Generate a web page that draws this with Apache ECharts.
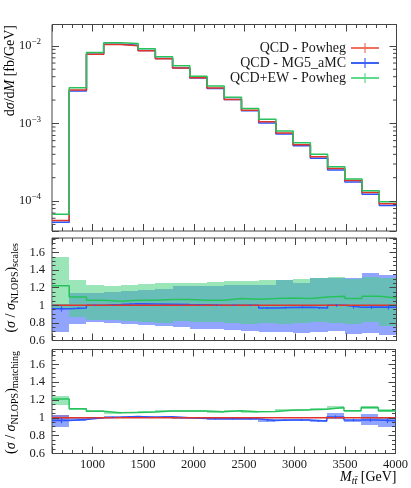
<!DOCTYPE html>
<html>
<head>
<meta charset="utf-8">
<script src="https://cdn.jsdelivr.net/npm/echarts@6/dist/echarts.min.js"></script>
<style>
  html, body { margin: 0; padding: 0; background: #fff; }
  #chart { width: 411px; height: 488px; }
</style>
</head>
<body>
<div id="chart"></div>
<script>
// bin edges of M_ttbar [GeV]
const binEdges = [600, 770, 940, 1110, 1280, 1450, 1620, 1790, 1960, 2130, 2300,
  2470, 2640, 2810, 2980, 3150, 3320, 3490, 3660, 3830, 4000];

// dsigma/dM [fb/GeV]
const xsPowheg = [5.6e-5, 2.69e-3, 7.8e-3, 1.04e-2, 1.0e-2, 8.65e-3, 6.8e-3, 5.18e-3, 3.88e-3, 2.86e-3,
  2.03e-3, 1.48e-3, 1.05e-3, 7.55e-4, 5.3e-4, 3.72e-4, 2.63e-4, 1.84e-4, 1.29e-4, 9.2e-5];
const xsMG5 = [5.33e-5, 2.61e-3, 7.8e-3, 1.045e-2, 1.02e-2, 8.7e-3, 6.87e-3, 5.2e-3, 3.86e-3, 2.83e-3,
  2.03e-3, 1.46e-3, 1.01e-3, 7.3e-4, 5.15e-4, 3.56e-4, 2.51e-4, 1.76e-4, 1.22e-4, 8.73e-5];
const xsEW = [6.76e-5, 2.88e-3, 8.22e-3, 1.094e-2, 1.074e-2, 9.15e-3, 7.21e-3, 5.53e-3, 4.07e-3, 3.03e-3,
  2.17e-3, 1.56e-3, 1.13e-3, 8.0e-4, 5.65e-4, 4.0e-4, 2.77e-4, 1.93e-4, 1.36e-4, 9.8e-5];

// ratio panel: scale variations
const scaleRed = [1, 1, 1, 1, 1, 1, 1, 1, 1, 1, 1, 1, 1, 1, 1, 1, 1, 1, 1, 1];
const scaleEW = [1.221, 1.095, 1.057, 1.046, 1.057, 1.057, 1.065, 1.065, 1.057, 1.057,
  1.076, 1.069, 1.076, 1.084, 1.076, 1.095, 1.103, 1.076, 1.103, 1.084];
const scaleEWLo = [0.975, 0.862, 0.836, 0.83, 0.817, 0.81, 0.80, 0.817, 0.81, 0.81,
  0.80, 0.79, 0.80, 0.79, 0.80, 0.81, 0.80, 0.79, 0.81, 0.77];
const scaleEWHi = [1.552, 1.291, 1.236, 1.221, 1.236, 1.244, 1.255, 1.255, 1.259, 1.263,
  1.278, 1.274, 1.286, 1.293, 1.297, 1.312, 1.324, 1.297, 1.324, 1.312];
const scaleMG5 = [0.96, 0.97, 1.0, 1.008, 1.018, 1.015, 1.012, 1.008, 1.005, 1.0,
  1.0, 1.0, 0.97, 0.975, 0.978, 0.97, 1.0, 0.978, 0.98, 0.978];
const scaleMG5Err = [0.03, 0.01, 0.006, 0.006, 0.006, 0.006, 0.006, 0.006, 0.006, 0.008,
  0.008, 0.008, 0.01, 0.01, 0.012, 0.012, 0.015, 0.015, 0.018, 0.025];
const scaleMG5Lo = [0.695, 0.79, 0.81, 0.80, 0.79, 0.771, 0.76, 0.752, 0.733, 0.733,
  0.714, 0.703, 0.70, 0.695, 0.688, 0.695, 0.703, 0.676, 0.688, 0.657];
const scaleMG5Hi = [1.01, 1.135, 1.141, 1.152, 1.164, 1.171, 1.19, 1.217, 1.217, 1.217,
  1.229, 1.229, 1.229, 1.286, 1.259, 1.31, 1.305, 1.312, 1.362, 1.343];

// ratio panel: matching variations
const matchRed = [1, 1, 1, 1, 1, 1, 1, 1, 1, 1, 1, 1, 1, 1, 1, 1, 1, 1, 1, 1];
const matchRedLo = [0.975, 0.995, 0.996, 0.996, 0.996, 0.996, 0.996, 0.996, 0.996, 0.996,
  0.996, 0.996, 0.996, 0.996, 0.996, 0.996, 0.996, 0.996, 0.996, 0.996];
const matchRedHi = [1.03, 1.005, 1.004, 1.004, 1.004, 1.004, 1.004, 1.004, 1.004, 1.004,
  1.004, 1.004, 1.004, 1.004, 1.004, 1.004, 1.004, 1.004, 1.004, 1.004];
const matchEW = [1.211, 1.10, 1.074, 1.056, 1.06, 1.064, 1.075, 1.075, 1.075, 1.067,
  1.078, 1.067, 1.07, 1.085, 1.089, 1.096, 1.115, 1.078, 1.115, 1.078];
const matchEWLo = [1.14, 1.09, 1.066, 1.048, 1.052, 1.056, 1.067, 1.067, 1.067, 1.059,
  1.069, 1.058, 1.061, 1.075, 1.079, 1.085, 1.098, 1.066, 1.097, 1.062];
const matchEWHi = [1.24, 1.11, 1.082, 1.064, 1.068, 1.072, 1.083, 1.083, 1.083, 1.075,
  1.087, 1.076, 1.079, 1.095, 1.099, 1.107, 1.132, 1.09, 1.133, 1.094];
const matchMG5 = [0.97, 0.98, 1.0, 1.005, 1.015, 1.005, 1.012, 1.0, 0.992, 0.99,
  0.99, 0.99, 0.97, 0.975, 0.975, 0.964, 1.01, 0.975, 0.975, 0.966];
const matchMG5Err = [0.03, 0.01, 0.006, 0.006, 0.006, 0.006, 0.006, 0.006, 0.006, 0.008,
  0.008, 0.008, 0.01, 0.01, 0.012, 0.012, 0.015, 0.015, 0.018, 0.025];
const matchMG5Lo = [0.90, 0.965, 0.99, 0.995, 1.005, 0.995, 1.002, 0.99, 0.982, 0.98,
  0.98, 0.978, 0.958, 0.963, 0.962, 0.955, 0.985, 0.955, 0.915, 0.90];
const matchMG5Hi = [1.03, 0.995, 1.01, 1.015, 1.025, 1.015, 1.022, 1.01, 1.002, 1.0,
  1.0, 1.002, 0.982, 0.987, 0.988, 0.975, 1.05, 0.98, 1.045, 1.01];

// minor ticks of the log axis
const logMinorTicks = [5e-5, 6e-5, 7e-5, 8e-5, 9e-5,
  2e-4, 3e-4, 4e-4, 5e-4, 6e-4, 7e-4, 8e-4, 9e-4,
  2e-3, 3e-3, 4e-3, 5e-3, 6e-3, 7e-3, 8e-3, 9e-3];

const X_MIN = 600, X_MAX = 4000;
const FONT = 'Liberation Serif';
const FRAME = '#444';
const TXT = '#1a1a1a';
const RED = '#e0352b', BLUE = '#2a55ff', GREEN = '#27c25c';
const FILL_BLUE = 'rgba(35,75,255,0.5)';
const FILL_GREEN = 'rgba(73,209,128,0.55)';

const chart = echarts.init(document.getElementById('chart'));

const gridPos = [
  { left: 52, right: 14.5, top: 24.5, height: 206.5 },
  { left: 52, right: 14.5, top: 238, height: 102.5 },
  { left: 52, right: 14.5, top: 349.5, height: 104 }
];

function xAxesFor(g) {
  const axes = [];
  ['bottom', 'top'].forEach(function (pos) {
    axes.push({
      gridIndex: g, type: 'value', position: pos, min: X_MIN, max: X_MAX,
      minInterval: 500, maxInterval: 500, z: 10,
      axisLine: { show: false },
      axisTick: { inside: true, length: 7, lineStyle: { color: FRAME } },
      axisLabel: {
        show: g === 2 && pos === 'bottom', margin: 5,
        fontFamily: FONT, fontSize: 12.5, color: TXT,
        formatter: function (v) { return v === X_MIN ? '' : String(v); }
      },
      splitLine: { show: false }
    });
    axes.push({
      gridIndex: g, type: 'value', position: pos, min: X_MIN, max: X_MAX,
      interval: 100, z: 10,
      axisLine: { show: false },
      axisTick: { inside: true, length: 3.5, lineStyle: { color: FRAME } },
      axisLabel: { show: false },
      splitLine: { show: false }
    });
  });
  return axes;
}

function ratioYAxes(g) {
  const axes = [];
  ['left', 'right'].forEach(function (pos) {
    axes.push({
      gridIndex: g, type: 'value', position: pos, min: 0.6, max: 1.765, interval: 0.2, z: 10,
      axisLine: { show: false },
      axisTick: { inside: true, length: 7, lineStyle: { color: FRAME } },
      axisLabel: {
        show: pos === 'left', margin: 7, fontFamily: FONT, fontSize: 12.5, color: TXT,
        formatter: function (v) { return v > 1.7 ? '' : String(Math.round(v * 10) / 10); }
      },
      splitLine: { show: false }
    });
    axes.push({
      gridIndex: g, type: 'value', position: pos, min: 0.6, max: 1.765, interval: 0.05, z: 10,
      axisLine: { show: false },
      axisTick: { inside: true, length: 3.5, lineStyle: { color: FRAME } },
      axisLabel: { show: false },
      splitLine: { show: false }
    });
  });
  return axes;
}

function logYAxis(pos) {
  return {
    gridIndex: 0, type: 'log', logBase: 10, position: pos, min: 4.11e-5, max: 1.884e-2, z: 10,
    axisLine: { show: false },
    axisTick: { inside: true, length: 7, lineStyle: { color: FRAME } },
    axisLabel: {
      show: pos === 'left', margin: 11,
      formatter: function (v) {
        const e = Math.log10(v);
        if (Math.abs(e - Math.round(e)) > 1e-6) return '';
        return '{b|10}{s|\u2212' + Math.abs(Math.round(e)) + '}';
      },
      rich: {
        b: { fontFamily: FONT, fontSize: 12.5, color: TXT, lineHeight: 17 },
        s: { fontFamily: FONT, fontSize: 9, color: TXT, lineHeight: 9, verticalAlign: 'top' }
      }
    },
    splitLine: { show: false }
  };
}

const xAxes = [].concat(xAxesFor(0), xAxesFor(1), xAxesFor(2));
const yAxes = [logYAxis('left'), logYAxis('right')].concat(ratioYAxes(1), ratioYAxes(2));
const xMain = [0, 4, 8];
const yMain = [0, 2, 6];

function stepData(vals) {
  return binEdges.map(function (e, i) { return [e, vals[Math.min(i, vals.length - 1)]]; });
}

function histLine(name, g, vals, color) {
  return {
    name: name, type: 'line', step: 'end', xAxisIndex: xMain[g], yAxisIndex: yMain[g],
    data: stepData(vals), showSymbol: false, symbol: 'none', silent: true, z: 4,
    lineStyle: { color: color, width: 1.5 }, itemStyle: { color: color }
  };
}

function band(g, lo, hi, fill) {
  return {
    type: 'custom', xAxisIndex: xMain[g], yAxisIndex: yMain[g], silent: true, clip: true, z: 2,
    data: lo.map(function (l, i) { return [binEdges[i], binEdges[i + 1], l, hi[i]]; }),
    renderItem: function (params, api) {
      const p0 = api.coord([api.value(0), api.value(3)]);
      const p1 = api.coord([api.value(1), api.value(2)]);
      const x0 = Math.round(p0[0]), x1 = Math.round(p1[0]);
      const y0 = Math.round(p0[1]), y1 = Math.round(p1[1]);
      return { type: 'rect', shape: { x: x0, y: y0, width: x1 - x0, height: y1 - y0 }, style: { fill: fill } };
    }
  };
}

// vertical error bars at bin centres
function errBars(g, vals, err, color) {
  return {
    type: 'custom', xAxisIndex: xMain[g], yAxisIndex: yMain[g], silent: true, clip: true, z: 5,
    data: vals.map(function (v, i) { return [(binEdges[i] + binEdges[i + 1]) / 2, v - err[i], v + err[i]]; }),
    renderItem: function (params, api) {
      const a = api.coord([api.value(0), api.value(1)]);
      const b = api.coord([api.value(0), api.value(2)]);
      const x = Math.round(a[0]) + 0.5;
      return { type: 'line', shape: { x1: x, y1: a[1], x2: x, y2: b[1] }, style: { stroke: color, lineWidth: 1.2 } };
    }
  };
}

const minorLogTicks = {
  type: 'custom', xAxisIndex: 0, yAxisIndex: 0, silent: true, z: 10,
  data: logMinorTicks.map(function (v) { return [X_MIN, v]; }),
  renderItem: function (params, api) {
    const pl = api.coord([X_MIN, api.value(1)]);
    const pr = api.coord([X_MAX, api.value(1)]);
    const st = { stroke: FRAME, lineWidth: 1 };
    return {
      type: 'group', children: [
        { type: 'line', shape: { x1: pl[0], y1: pl[1], x2: pl[0] + 3.5, y2: pl[1] }, style: st },
        { type: 'line', shape: { x1: pr[0], y1: pr[1], x2: pr[0] - 3.5, y2: pr[1] }, style: st }
      ]
    };
  }
};

const N_RED = 'QCD - Powheg', N_BLUE = 'QCD - MG5_aMC', N_GREEN = 'QCD+EW - Powheg';

const titleRich = {
  n: { fontFamily: FONT, fontSize: 14, color: TXT, lineHeight: 18 },
  i: { fontFamily: FONT, fontSize: 14, fontStyle: 'italic', color: TXT, lineHeight: 18 },
  sub: { fontFamily: FONT, fontSize: 10, color: TXT, lineHeight: 10, verticalAlign: 'bottom' },
  subi: { fontFamily: FONT, fontSize: 10, fontStyle: 'italic', color: TXT, lineHeight: 10, verticalAlign: 'bottom' }
};

function yTitle(text, x, y) {
  return {
    type: 'text', x: x, y: y, rotation: Math.PI / 2, silent: true,
    style: { text: text, rich: titleRich, align: 'right', verticalAlign: 'middle',
      textAlign: 'right', textVerticalAlign: 'middle' }
  };
}

chart.setOption({
  animation: false,
  backgroundColor: '#fff',
  grid: gridPos.map(function (p) {
    return Object.assign({ show: true, borderColor: FRAME, borderWidth: 1, backgroundColor: 'transparent' }, p);
  }),
  xAxis: xAxes,
  yAxis: yAxes,
  legend: {
    orient: 'vertical', right: 27, top: 36, align: 'right',
    itemWidth: 28, itemHeight: 10, itemGap: 1,
    icon: 'path://M0,4h28v2h-28z M13.4,0h1.2v10h-1.2z',
    textStyle: { fontFamily: FONT, fontSize: 14, color: TXT },
    selectedMode: false,
    data: [
      { name: N_RED, itemStyle: { color: '#f0705f', borderWidth: 0 } },
      { name: N_BLUE, itemStyle: { color: '#3d63f5', borderWidth: 0 } },
      { name: N_GREEN, itemStyle: { color: '#5fd98a', borderWidth: 0 } }
    ]
  },
  graphic: [
    yTitle('{n|d}{i|σ}{n|/d}{i|M}{n| [fb/GeV]}', 10, 25),
    yTitle('{n|(}{i|σ}{n| / }{i|σ}{sub|NLOPS}{n|)}{sub|scales}', 11, 243),
    yTitle('{n|(}{i|σ}{n| / }{i|σ}{sub|NLOPS}{n|)}{sub|matching}', 11, 351),
    {
      type: 'text', x: 396.5, y: 477, silent: true,
      style: { text: '{i|M}{subi|tt\u0304}{n| [GeV]}', rich: titleRich, align: 'right', verticalAlign: 'middle',
        textAlign: 'right', textVerticalAlign: 'middle' }
    }
  ],
  series: [
    minorLogTicks,
    histLine(N_BLUE, 0, xsMG5, BLUE),
    histLine(N_RED, 0, xsPowheg, RED),
    histLine(N_GREEN, 0, xsEW, GREEN),

    band(1, scaleMG5Lo, scaleMG5Hi, FILL_BLUE),
    band(1, scaleEWLo, scaleEWHi, FILL_GREEN),
    histLine(N_BLUE, 1, scaleMG5, BLUE),
    histLine(N_GREEN, 1, scaleEW, GREEN),
    histLine(N_RED, 1, scaleRed, RED),
    errBars(1, scaleMG5, scaleMG5Err, BLUE),

    band(2, matchRedLo, matchRedHi, 'rgba(240,80,60,0.4)'),
    band(2, matchMG5Lo, matchMG5Hi, FILL_BLUE),
    band(2, matchEWLo, matchEWHi, FILL_GREEN),
    histLine(N_BLUE, 2, matchMG5, BLUE),
    histLine(N_GREEN, 2, matchEW, GREEN),
    histLine(N_RED, 2, matchRed, RED),
    errBars(2, matchMG5, matchMG5Err, BLUE)
  ]
});
</script>
</body>
</html>
